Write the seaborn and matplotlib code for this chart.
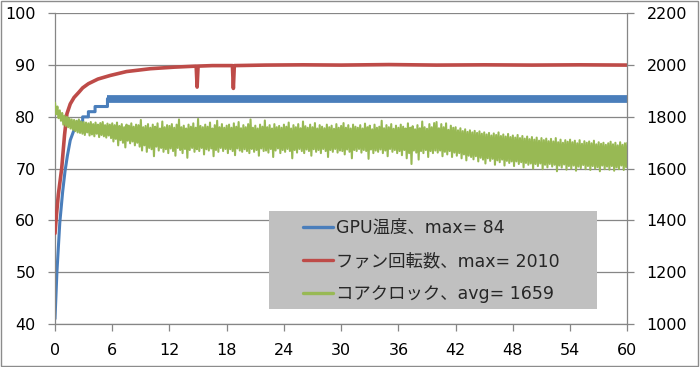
#GPU温度・ファン回転数・コアクロックの推移 (Seaborn)

import numpy as np
import pandas as pd
import matplotlib
matplotlib.use("Agg")
import matplotlib.pyplot as plt
from matplotlib.patches import Rectangle
from matplotlib.lines import Line2D
import seaborn as sea

#データ (横軸は分)
gpu_t = [0, 0.2, 0.5, 0.8, 1.05, 1.3, 1.6, 2.0, 2.4, 2.9, 2.9, 3.5, 3.5, 4.2, 4.2, 5.5, 5.5]
gpu_temp = [41, 50, 59.5, 65.5, 69.5, 72.5, 75.5, 77.5, 79, 79, 80, 80, 81, 81, 82, 82, 83.5]
#5.5分以降は83と84を行き来している帯
gpu_band_t = [5.5, 60]
gpu_band = [83.5, 83.5]

fan_t = [0, 0.15, 0.35, 0.7, 1.0, 1.25, 1.6, 2.0, 2.5, 2.9, 3.5, 4.5, 5.8, 7.5, 10,
         12.5, 14.8, 14.9, 15.0, 16.5, 18.6, 18.7, 18.8, 22, 26, 30, 35, 40, 45, 50, 55, 60]
fan_rpm = [1350, 1420, 1500, 1600, 1730, 1812, 1850, 1875, 1895, 1912, 1928, 1946, 1960, 1975, 1986,
           1992, 1996, 1915, 1996, 1998, 1998, 1910, 1998, 2000, 2001, 2000, 2002, 2000, 2001, 2000, 2001, 2000]

#コアクロック (0.125分ごと、1行 = 2分)
clock_mhz = [
    1855, 1810, 1840, 1795, 1825, 1785, 1815, 1770, 1805, 1765, 1800, 1760, 1795, 1755, 1790, 1750,
    1788, 1745, 1785, 1740, 1790, 1738, 1782, 1735, 1780, 1730, 1778, 1740, 1775, 1728, 1780, 1732,
    1772, 1725, 1778, 1735, 1770, 1722, 1776, 1730, 1780, 1725, 1768, 1720, 1774, 1728, 1770, 1718,
    1775, 1705, 1768, 1715, 1778, 1690, 1765, 1710, 1772, 1700, 1760, 1682, 1770, 1708, 1766, 1698,
    1775, 1705, 1762, 1690, 1770, 1700, 1768, 1685, 1788, 1670, 1760, 1690, 1765, 1665, 1772, 1680,
    1758, 1675, 1770, 1648, 1762, 1685, 1775, 1670, 1755, 1680, 1782, 1665, 1760, 1675, 1768, 1660,
    1765, 1678, 1772, 1668, 1758, 1650, 1770, 1680, 1790, 1672, 1760, 1660, 1766, 1676, 1755, 1642,
    1770, 1672, 1762, 1680, 1775, 1665, 1758, 1675, 1792, 1668, 1765, 1680, 1760, 1655, 1770, 1675,
    1762, 1670, 1778, 1678, 1755, 1648, 1768, 1672, 1785, 1665, 1760, 1680, 1772, 1668, 1758, 1676,
    1766, 1660, 1770, 1675, 1758, 1668, 1775, 1652, 1762, 1678, 1780, 1670, 1756, 1665, 1768, 1675,
    1760, 1668, 1772, 1660, 1790, 1676, 1758, 1665, 1766, 1672, 1755, 1650, 1770, 1678, 1762, 1668,
    1786, 1670, 1760, 1662, 1768, 1676, 1755, 1645, 1772, 1670, 1760, 1678, 1765, 1660, 1758, 1672,
    1770, 1665, 1762, 1676, 1778, 1668, 1755, 1640, 1768, 1672, 1760, 1662, 1772, 1676, 1756, 1668,
    1782, 1660, 1764, 1674, 1758, 1668, 1770, 1650, 1760, 1675, 1776, 1665, 1755, 1672, 1768, 1660,
    1762, 1676, 1756, 1668, 1770, 1645, 1760, 1672, 1766, 1665, 1754, 1676, 1772, 1662, 1758, 1670,
    1765, 1668, 1776, 1655, 1758, 1674, 1768, 1665, 1755, 1640, 1770, 1672, 1762, 1668, 1758, 1676,
    1768, 1662, 1755, 1672, 1774, 1668, 1760, 1638, 1766, 1674, 1752, 1660, 1770, 1670, 1758, 1665,
    1762, 1674, 1785, 1660, 1756, 1670, 1768, 1648, 1760, 1676, 1772, 1665, 1754, 1672, 1766, 1660,
    1758, 1668, 1770, 1652, 1762, 1672, 1755, 1640, 1775, 1660, 1758, 1618, 1764, 1670, 1752, 1662,
    1768, 1635, 1756, 1668, 1782, 1660, 1760, 1672, 1754, 1645, 1772, 1668, 1760, 1660, 1776, 1670,
    1780, 1662, 1756, 1670, 1772, 1648, 1760, 1665, 1775, 1655, 1750, 1668, 1766, 1645, 1758, 1662,
    1760, 1650, 1748, 1660, 1756, 1640, 1745, 1655, 1752, 1632, 1742, 1650, 1748, 1645, 1740, 1636,
    1746, 1648, 1738, 1628, 1744, 1642, 1735, 1635, 1740, 1620, 1732, 1640, 1738, 1630, 1728, 1638,
    1736, 1615, 1730, 1632, 1740, 1625, 1726, 1635, 1732, 1612, 1724, 1630, 1734, 1622, 1722, 1628,
    1728, 1610, 1720, 1628, 1730, 1618, 1718, 1625, 1726, 1605, 1716, 1622, 1724, 1615, 1714, 1620,
    1722, 1600, 1712, 1618, 1720, 1610, 1708, 1620, 1718, 1598, 1710, 1615, 1716, 1605, 1706, 1618,
    1715, 1608, 1705, 1615, 1718, 1590, 1702, 1612, 1712, 1604, 1700, 1616, 1710, 1596, 1704, 1610,
    1712, 1600, 1702, 1612, 1708, 1592, 1698, 1608, 1710, 1602, 1696, 1614, 1706, 1598, 1700, 1610,
    1705, 1595, 1698, 1610, 1708, 1600, 1694, 1606, 1702, 1590, 1696, 1612, 1700, 1598, 1692, 1608,
    1698, 1596, 1704, 1610, 1694, 1592, 1700, 1605, 1690, 1598, 1702, 1612, 1692, 1595, 1698, 1606,
    1700]
clock_t = np.linspace(0, 60, len(clock_mhz))

x_ticks = list(range(0, 61, 6))
left_ticks = list(range(40, 101, 10))
right_ticks = list(range(1000, 2201, 200))

labels = ["GPU温度、max= 84", "ファン回転数、max= 2010", "コアクロック、avg= 1659"]

c_blue = "#4a7ebb"
c_red = "#be4b48"
c_green = "#98b954"
c_grid = "#868686"

sea.set_theme(style="white")
plt.rcParams["font.family"] = ["DejaVu Sans", "Noto Sans CJK JP"]

fig = plt.figure(figsize=(7, 3.67), dpi=100)
ax = fig.add_axes([55 / 700, 1 - 324 / 367, 572.3 / 700, 310.7 / 367])
ax2 = ax.twinx()

#左軸: GPU温度
sea.lineplot(x=gpu_t, y=gpu_temp, ax=ax, color=c_blue, linewidth=2.2, estimator=None, sort=False)
sea.lineplot(x=gpu_band_t, y=gpu_band, ax=ax, color=c_blue, linewidth=5.6, estimator=None,
             sort=False, solid_capstyle="butt")

#右軸: ファン回転数とコアクロック
sea.lineplot(x=fan_t, y=fan_rpm, ax=ax2, color=c_red, linewidth=2.6, estimator=None, sort=False)
sea.lineplot(x=clock_t, y=clock_mhz, ax=ax2, color=c_green, linewidth=1.5, estimator=None, sort=False)

ax.set_xlim(0, 60)
ax.set_ylim(40, 100)
ax2.set_ylim(1000, 2200)
ax.set_xticks(x_ticks)
ax.set_yticks(left_ticks)
ax2.set_yticks(right_ticks)
ax.set_xlabel("")
ax.set_ylabel("")
ax2.set_ylabel("")

ax.grid(axis="y", color=c_grid, linewidth=0.9)
ax.grid(axis="x", visible=False)
ax2.grid(False)

for a in (ax, ax2):
    for s in a.spines.values():
        s.set_color(c_grid)
        s.set_linewidth(0.9)
    a.spines["top"].set_visible(False)
ax2.spines["left"].set_visible(False)
ax2.spines["bottom"].set_visible(False)
ax.spines["right"].set_visible(False)

ax.tick_params(axis="both", direction="out", length=5, width=0.9, color=c_grid,
               pad=9, labelsize=11.5, labelcolor="black", left=True, bottom=True)
ax2.tick_params(axis="y", direction="out", length=5, width=0.9, color=c_grid,
                pad=9, labelsize=11.5, labelcolor="black", right=True)

#凡例の灰色の箱
fig.add_artist(Rectangle((269 / 700, 1 - 309 / 367), 328 / 700, 98 / 367,
                         transform=fig.transFigure, facecolor="#c0c0c0", edgecolor="none", zorder=2))
handles = [Line2D([], [], color=c, linewidth=2.4) for c in (c_blue, c_red, c_green)]
fig.legend(handles, labels, loc="center left", bbox_to_anchor=(303 / 700, 1 - 261 / 367),
           frameon=False, borderpad=0, borderaxespad=0, handlelength=1.7, handletextpad=0.2,
           labelspacing=0.85, fontsize=12.5)

#グラフ全体の枠
fig.add_artist(Rectangle((0.5 / 700, 1.5 / 367), 697.5 / 700, 365 / 367, transform=fig.transFigure,
                         fill=False, edgecolor="#8c8c8c", linewidth=1))

plt.savefig("out.png", dpi=100)
